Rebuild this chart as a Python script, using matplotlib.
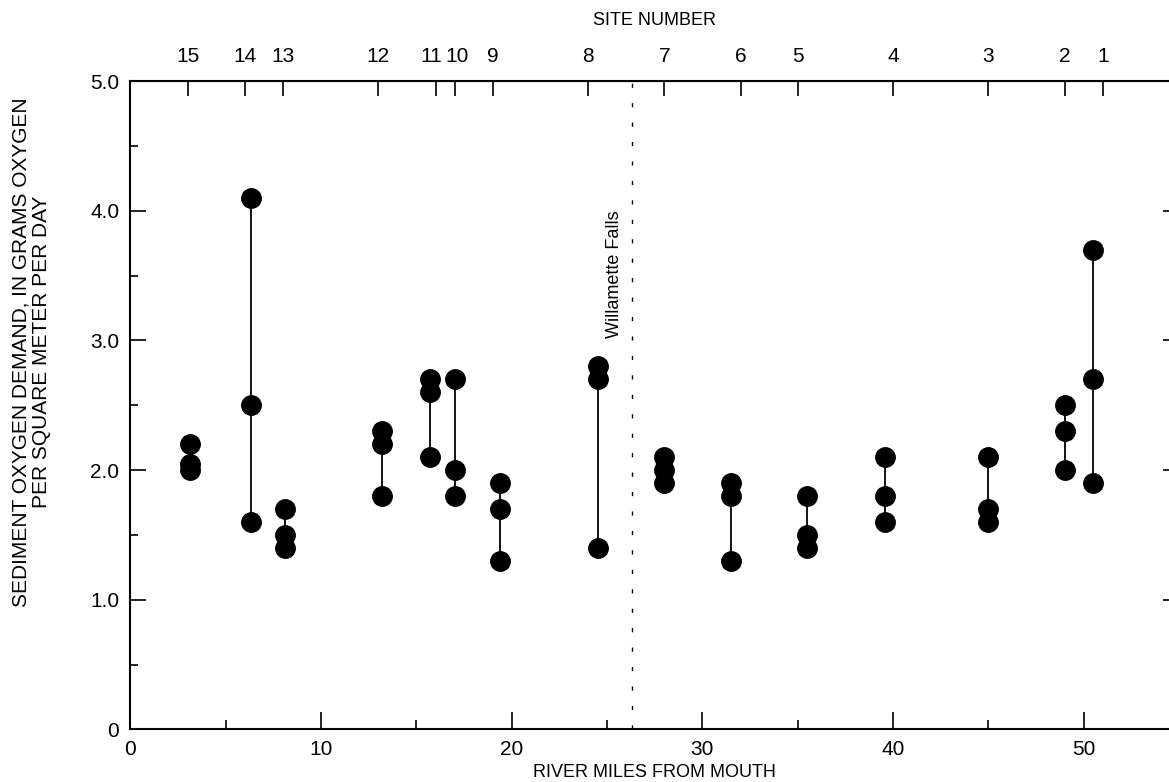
import matplotlib.pyplot as plt
import matplotlib.transforms as mtransforms
from matplotlib.ticker import MultipleLocator

plt.rcParams['font.family'] = ['Liberation Sans', 'DejaVu Sans']

# river mile of each site, and the three measured values at each
site_nr = [15, 14, 13, 12, 11, 10, 9, 8, 7, 6, 5, 4, 3, 2, 1]
site_mile = [3.1, 6.3, 8.1, 13.2, 15.7, 17.0, 19.4, 24.5, 28.0, 31.5, 35.5, 39.6, 45.0, 49.0, 50.5]
tick_mile = [3.0, 6.0, 8.0, 13.0, 16.0, 17.0, 19.0, 24.0, 28.0, 32.0, 35.0, 40.0, 45.0, 49.0, 51.0]
sod_high = [2.2, 4.1, 1.7, 2.3, 2.7, 2.7, 1.9, 2.8, 2.1, 1.9, 1.8, 2.1, 2.1, 2.5, 3.7]
sod_mid = [2.05, 2.5, 1.5, 2.2, 2.6, 2.0, 1.7, 2.7, 2.0, 1.8, 1.5, 1.8, 1.7, 2.3, 2.7]
sod_low = [2.0, 1.6, 1.4, 1.8, 2.1, 1.8, 1.3, 1.4, 1.9, 1.3, 1.4, 1.6, 1.6, 2.0, 1.9]
falls_mile = 26.3

fig = plt.figure(figsize=(11.69, 7.82), dpi=100)
# right edge (mile 55) falls just past the picture, as in the original
ax = fig.add_axes([0.1116, 0.0673, 0.897, 0.8291])

for x, hi, md, lo in zip(site_mile, sod_high, sod_mid, sod_low):
    ax.plot([x, x], [lo, hi], color='black', lw=1.3, zorder=2)
    ax.plot([x, x, x], [hi, md, lo], 'o', color='black', ms=14, zorder=3)

ax.axvline(falls_mile, color='black', lw=1, linestyle=(0, (3, 11)))
ax.text(falls_mile - 0.89, 3.02, 'Willamette Falls', rotation=90, ha='center',
        va='bottom', fontsize=13)

ax.set_xlim(0, 55)
ax.set_ylim(0, 5)
ax.set_xticks([0, 10, 20, 30, 40, 50])
ax.xaxis.set_minor_locator(MultipleLocator(5))
ax.set_yticks([0, 1, 2, 3, 4, 5])
ax.set_yticklabels(['0', '1.0', '2.0', '3.0', '4.0', '5.0'])
ax.yaxis.set_minor_locator(MultipleLocator(0.5))

ax.tick_params(axis='x', which='major', direction='in', length=12, width=1.2,
               labelsize=15, pad=8)
ax.tick_params(axis='x', which='minor', direction='in', length=6.5, width=1.2)
ax.tick_params(axis='y', which='major', direction='in', length=11.5, width=1.2,
               right=True, labelsize=15, pad=8)
ax.tick_params(axis='y', which='minor', direction='in', length=5.5, width=1.2,
               right=True)
for s in ax.spines.values():
    s.set_linewidth(1.5)

ax.set_xlabel('RIVER MILES FROM MOUTH', fontsize=13, labelpad=3)
ax.set_ylabel('SEDIMENT OXYGEN DEMAND, IN GRAMS OXYGEN\nPER SQUARE METER PER DAY',
              fontsize=15, linespacing=1.1)
ax.yaxis.set_label_coords(-0.076, 0.582)

top = ax.secondary_xaxis('top')
top.set_xticks(tick_mile)
top.set_xticklabels([str(n) for n in site_nr])
top.tick_params(direction='in', length=11, width=1.2, labelsize=15, pad=11)
top.set_xlabel('SITE NUMBER', fontsize=13, labelpad=16)

# sites 11 and 10 sit close together: nudge their labels apart a little
for lab in top.get_xticklabels():
    if lab.get_text() == '11':
        dx = -3
    elif lab.get_text() == '10':
        dx = 2
    else:
        continue
    lab.set_transform(lab.get_transform() +
                      mtransforms.ScaledTranslation(dx / 72, 0, fig.dpi_scale_trans))

fig.savefig('out.png', dpi=100)
